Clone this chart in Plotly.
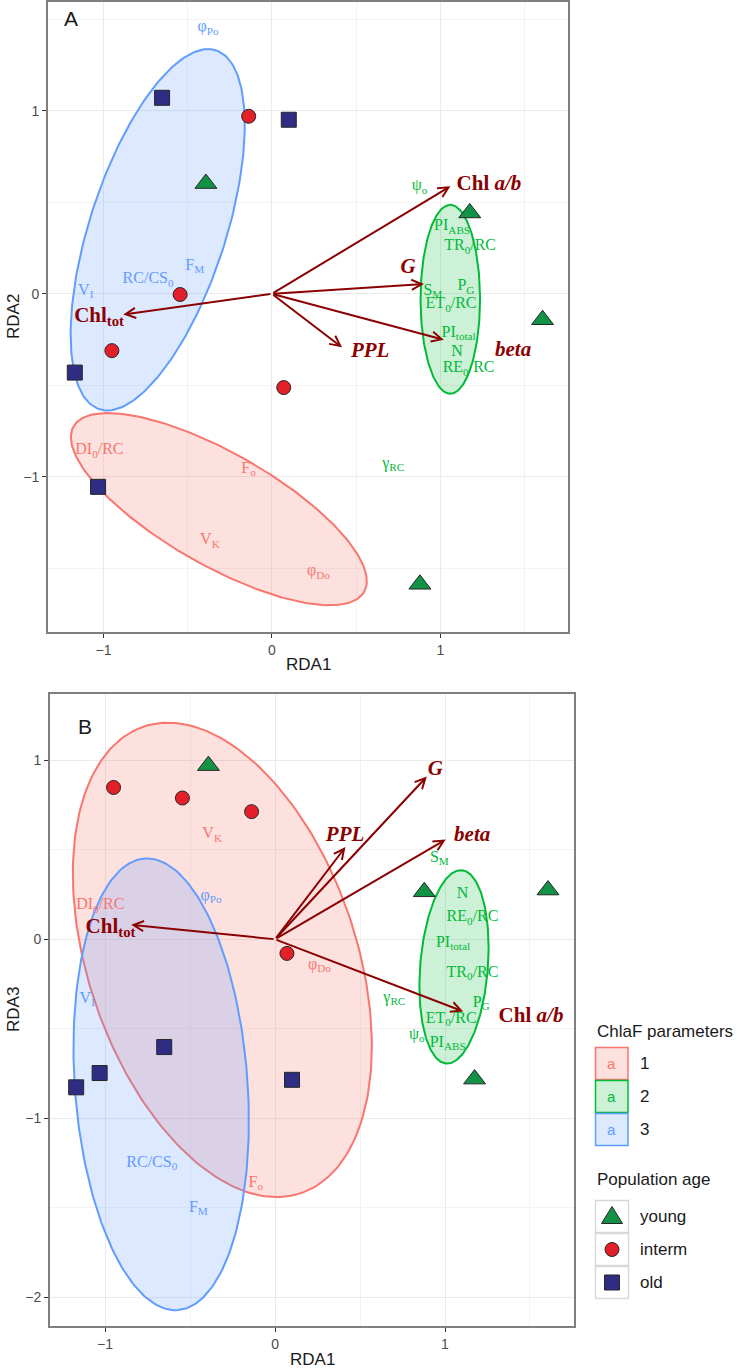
import numpy as np
import plotly.graph_objects as go

W, H = 748, 1371

# ---------------- data ----------------
group_names = ["1", "2", "3"]
group_colors = ["#F8766D", "#00BA38", "#619CFF"]
group_fills = ["rgba(248,118,109,0.22)", "rgba(0,186,56,0.20)", "rgba(97,156,255,0.22)"]

age_names = ["young", "interm", "old"]
age_symbols = ["triangle-up", "circle", "square"]
age_colors = ["#129245", "#E3202A", "#2F2C84"]
age_sizes = [19, 14, 15]

young_rda1 = [-0.392, 1.174, 1.606, 0.878]
young_rda2 = [0.603, 0.442, -0.142, -1.589]
young_rda3 = [0.970, -0.781, 0.275, 0.265]
interm_rda1 = [-0.138, -0.545, -0.950, 0.070]
interm_rda2 = [0.971, -0.004, -0.311, -0.513]
interm_rda3 = [0.713, 0.789, 0.848, -0.079]
old_rda1 = [-0.652, 0.100, -1.170, -1.032]
old_rda2 = [1.072, 0.952, -0.431, -1.056]
old_rda3 = [-0.602, -0.785, -0.827, -0.747]

arrow_names = ["<b>Chl <i>a/b</i></b>", "<b><i>G</i></b>", "<b><i>beta</i></b>",
               "<b><i>PPL</i></b>", "<b>Chl<sub>tot</sub></b>"]
arrowA_rda1 = [1.059, 0.902, 1.020, 0.416, -0.882]
arrowA_rda2 = [0.588, 0.053, -0.252, -0.293, -0.114]
arrowA_lab_rda1 = [1.288, 0.808, 1.431, 0.583, -1.026]
arrowA_lab_rda2 = [0.597, 0.140, -0.311, -0.315, -0.123]
arrowB_rda1 = [1.107, 0.893, 1.004, 0.414, -0.846]
arrowB_rda3 = [-0.403, 0.909, 0.557, 0.515, 0.081]
arrowB_lab_rda1 = [1.506, 0.943, 1.160, 0.412, -0.968]
arrowB_lab_rda3 = [-0.435, 0.947, 0.580, 0.580, 0.066]

param_names = ["φ<sub>Po</sub>", "F<sub>M</sub>", "RC/CS<sub>0</sub>", "V<sub>I</sub>",
               "DI<sub>0</sub>/RC", "F<sub>o</sub>", "V<sub>K</sub>", "φ<sub>Do</sub>",
               "ψ<sub>o</sub>", "PI<sub>ABS</sub>", "TR<sub>0</sub>/RC", "S<sub>M</sub>",
               "P<sub>G</sub>", "ET<sub>0</sub>/RC", "PI<sub>total</sub>", "N",
               "RE<sub>0</sub>/RC", "γ<sub>RC</sub>"]
param_group = [3, 3, 3, 3, 1, 1, 1, 1, 2, 2, 2, 2, 2, 2, 2, 2, 2, 2]
paramA_rda1 = [-0.379, -0.458, -0.735, -1.105, -1.024, -0.139, -0.368, 0.276,
               0.876, 1.069, 1.176, 0.955, 1.151, 1.063, 1.108, 1.098, 1.167, 0.720]
paramA_rda2 = [1.458, 0.153, 0.079, 0.015, -0.856, -0.957, -1.348, -1.519,
               0.588, 0.369, 0.259, 0.016, 0.040, -0.057, -0.215, -0.316, -0.407, -0.930]
paramB_rda1 = [-0.376, -0.451, -0.725, -1.105, -1.028, -0.113, -0.370, 0.261,
               0.834, 1.016, 1.162, 0.967, 1.213, 1.036, 1.047, 1.103, 1.162, 0.702]
paramB_rda3 = [0.243, -1.500, -1.249, -0.331, 0.189, -1.362, 0.586, -0.142,
               -0.534, -0.577, -0.189, 0.456, -0.354, -0.445, -0.019, 0.252, 0.123, -0.327]

# confidence ellipses per parameter group (centre, semi-axes, angle in degrees)
ellA_cx = [-0.315, 1.0585, -0.678]
ellA_cy = [-1.178, -0.030, 0.350]
ellA_a = [0.974, 0.5165, 1.041]
ellA_b = [0.314, 0.1765, 0.400]
ellA_ang = [-27.2, 90.0, 70.1]
ellB_cx = [-0.310, 1.053, -0.670]
ellB_cy = [-0.115, -0.154, -0.810]
ellB_a = [1.383, 0.5417, 1.265]
ellB_b = [0.785, 0.199, 0.508]
ellB_ang = [-69.6, 85.1, -85.5]

ARROW_COL = "#8B0000"
SERIF = "Liberation Serif"
SANS = "Liberation Sans"


def ellipse(cx, cy, a, b, ang, n=240):
    t = np.linspace(0, 2 * np.pi, n)
    th = np.deg2rad(ang)
    x = cx + a * np.cos(th) * np.cos(t) - b * np.sin(th) * np.sin(t)
    y = cy + a * np.sin(th) * np.cos(t) + b * np.cos(th) * np.sin(t)
    return x.tolist(), y.tolist()


fig = go.Figure()


def add_panel(xa, ya, ecx, ecy, ea, eb, eang, px, py, lx, ly, ax_, ay_, site_y):
    for g in range(3):
        ex, ey = ellipse(ecx[g], ecy[g], ea[g], eb[g], eang[g])
        fig.add_trace(go.Scatter(x=ex, y=ey, mode="lines", fill="toself",
                                 fillcolor=group_fills[g],
                                 line=dict(color=group_colors[g], width=2),
                                 xaxis=xa, yaxis=ya, hoverinfo="skip"))
    fig.add_trace(go.Scatter(x=px, y=py, mode="text", text=param_names,
                             textposition="middle center",
                             textfont=dict(family=SERIF, size=16,
                                           color=[group_colors[g - 1] for g in param_group]),
                             xaxis=xa, yaxis=ya, hoverinfo="skip"))
    fig.add_trace(go.Scatter(x=lx, y=ly, mode="text", text=arrow_names,
                             textposition="middle center",
                             textfont=dict(family=SERIF, size=21, color=ARROW_COL),
                             xaxis=xa, yaxis=ya, hoverinfo="skip"))
    rda1s = [young_rda1, interm_rda1, old_rda1]
    for k in range(3):
        fig.add_trace(go.Scatter(x=rda1s[k], y=site_y[k], mode="markers",
                                 marker=dict(symbol=age_symbols[k], size=age_sizes[k],
                                             color=age_colors[k],
                                             line=dict(color="#262626", width=1)),
                                 xaxis=xa, yaxis=ya, hoverinfo="skip"))
    for i in range(len(ax_)):
        fig.add_annotation(x=ax_[i], y=ay_[i], ax=0, ay=0, xref=xa, yref=ya,
                           axref=xa, ayref=ya, text="", showarrow=True,
                           arrowhead=5, arrowsize=1.0, arrowwidth=2,
                           arrowcolor=ARROW_COL, standoff=0, startstandoff=0)


add_panel("x", "y", ellA_cx, ellA_cy, ellA_a, ellA_b, ellA_ang,
          paramA_rda1, paramA_rda2, arrowA_lab_rda1, arrowA_lab_rda2,
          arrowA_rda1, arrowA_rda2, [young_rda2, interm_rda2, old_rda2])
add_panel("x2", "y2", ellB_cx, ellB_cy, ellB_a, ellB_b, ellB_ang,
          paramB_rda1, paramB_rda3, arrowB_lab_rda1, arrowB_lab_rda3,
          arrowB_rda1, arrowB_rda3, [young_rda3, interm_rda3, old_rda3])

fig.add_annotation(x=-1.193, y=1.504, xref="x", yref="y", text="A", showarrow=False,
                   xanchor="center", yanchor="middle",
                   font=dict(family=SANS, size=21, color="#1A1A1A"))
fig.add_annotation(x=-1.119, y=1.188, xref="x2", yref="y2", text="B", showarrow=False,
                   xanchor="center", yanchor="middle",
                   font=dict(family=SANS, size=21, color="#1A1A1A"))


def pxx(v):
    return v / W


def pyy(v):
    return 1 - v / H


title_font = dict(family=SANS, size=17, color="#1A1A1A")
for tx, ty, tt, ang in [(308, 665, "RDA1", 0), (312, 1359, "RDA1", 0),
                        (13, 317, "RDA2", -90), (13, 1010, "RDA3", -90)]:
    fig.add_annotation(x=pxx(tx), y=pyy(ty), xref="paper", yref="paper", text=tt,
                       showarrow=False, textangle=ang, xanchor="center",
                       yanchor="middle", font=title_font)

# ---------------- legend ----------------
leg_font = dict(family=SANS, size=17, color="#1A1A1A")
fig.add_annotation(x=pxx(595), y=pyy(1031), xref="paper", yref="paper",
                   text="ChlaF parameters", showarrow=False, xanchor="left",
                   yanchor="middle", font=leg_font)
key_top = [1047, 1080, 1113]
for g in range(3):
    y0, y1 = key_top[g], key_top[g] + 33
    fig.add_shape(type="rect", xref="paper", yref="paper",
                  x0=pxx(595.5), x1=pxx(628), y0=pyy(y0 + 0.5), y1=pyy(y1 - 0.5),
                  fillcolor=group_fills[g], line=dict(color=group_colors[g], width=1.5))
    fig.add_annotation(x=pxx(611.5), y=pyy((y0 + y1) / 2), xref="paper", yref="paper",
                       text="a", showarrow=False, xanchor="center", yanchor="middle",
                       font=dict(family=SANS, size=15, color=group_colors[g]))
    fig.add_annotation(x=pxx(638), y=pyy((y0 + y1) / 2), xref="paper", yref="paper",
                       text=group_names[g], showarrow=False, xanchor="left",
                       yanchor="middle", font=leg_font)

fig.add_annotation(x=pxx(595), y=pyy(1179), xref="paper", yref="paper",
                   text="Population age", showarrow=False, xanchor="left",
                   yanchor="middle", font=leg_font)
age_top = [1200, 1233, 1266]
for k in range(3):
    y0, y1 = age_top[k], age_top[k] + 33
    cy = (y0 + y1) / 2
    fig.add_shape(type="rect", xref="paper", yref="paper",
                  x0=pxx(595.5), x1=pxx(628.5), y0=pyy(y0 + 0.5), y1=pyy(y1 - 0.5),
                  fillcolor="white", line=dict(color="#D9D9D9", width=1.5))
    mline = dict(color="#262626", width=1)
    if k == 0:
        path = "M {:.5f} {:.5f} L {:.5f} {:.5f} L {:.5f} {:.5f} Z".format(
            pxx(601.5), pyy(cy + 7), pxx(622.5), pyy(cy + 7), pxx(612), pyy(cy - 10))
        fig.add_shape(type="path", path=path, xref="paper", yref="paper",
                      fillcolor=age_colors[k], line=mline)
    elif k == 1:
        fig.add_shape(type="circle", xref="paper", yref="paper",
                      x0=pxx(605), x1=pxx(619), y0=pyy(cy - 7), y1=pyy(cy + 7),
                      fillcolor=age_colors[k], line=mline)
    else:
        fig.add_shape(type="rect", xref="paper", yref="paper",
                      x0=pxx(604.5), x1=pxx(619.5), y0=pyy(cy - 7.5), y1=pyy(cy + 7.5),
                      fillcolor=age_colors[k], line=mline)
    fig.add_annotation(x=pxx(638), y=pyy(cy), xref="paper", yref="paper",
                       text=age_names[k], showarrow=False, xanchor="left",
                       yanchor="middle", font=leg_font)

ax_common = dict(showline=True, mirror=True, linecolor="#7F7F7F", linewidth=1.8,
                 showgrid=True, gridcolor="#EBEBEB", gridwidth=1, zeroline=False,
                 ticks="outside", ticklen=4, tickcolor="#333333", tickwidth=1,
                 tickfont=dict(family=SANS, size=14, color="#4D4D4D"),
                 tick0=0, dtick=1,
                 minor=dict(tick0=0, dtick=0.5, showgrid=True, gridcolor="#F3F3F3",
                            gridwidth=0.8))

fig.update_layout(
    width=W, height=H, margin=dict(l=0, r=0, t=0, b=0),
    paper_bgcolor="white", plot_bgcolor="white", showlegend=False,
    xaxis=dict(domain=[48 / W, 568 / W], range=[-1.329, 1.757], anchor="y", **ax_common),
    yaxis=dict(domain=[1 - 632 / H, 1 - 2 / H], range=[-1.85, 1.596], anchor="x", **ax_common),
    xaxis2=dict(domain=[50 / W, 574 / W], range=[-1.324, 1.759], anchor="y2", **ax_common),
    yaxis2=dict(domain=[1 - 1326 / H, 1 - 694 / H], range=[-2.16, 1.37], anchor="x2", **ax_common),
)

fig.write_html("out.html", config={"displayModeBar": False},
               post_script="document.body.style.margin='0px';"
                           "document.body.style.overflow='hidden';")
